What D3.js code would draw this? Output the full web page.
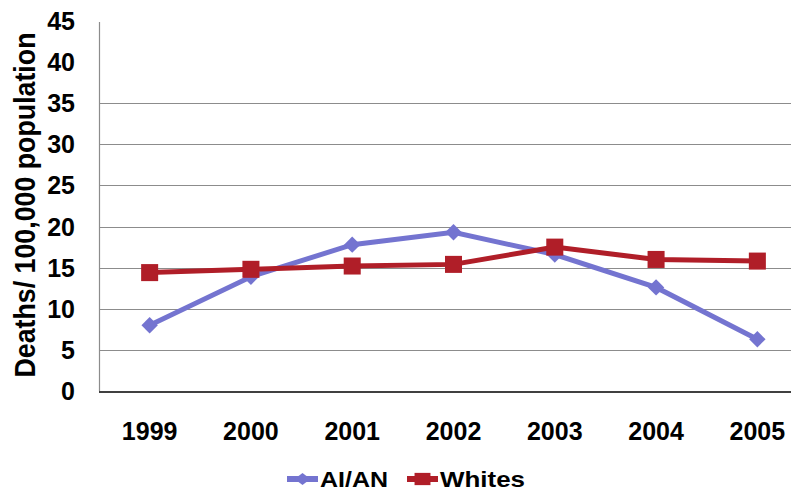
<!DOCTYPE html>
<html>
<head>
<meta charset="utf-8">
<script src="https://cdn.jsdelivr.net/npm/d3@7"></script>
<style>
  body { margin: 0; background: #fff; }
  svg { display: block; font-family: "Liberation Sans", Arial, sans-serif; }
</style>
</head>
<body>
<svg id="chart" width="791" height="492"></svg>
<script>
var years = ["1999", "2000", "2001", "2002", "2003", "2004", "2005"];
var aian = [8.0, 13.9, 17.8, 19.3, 16.6, 12.6, 6.3];
var whites = [14.4, 14.8, 15.2, 15.4, 17.5, 16.0, 15.8];
var yTicks = [0, 5, 10, 15, 20, 25, 30, 35, 40, 45];
var gridTicks = [5, 10, 15, 20, 25, 30, 35];

var svg = d3.select("#chart");
var plotLeft = 99, plotRight = 808, plotTop = 21, plotBottom = 391;

var x = d3.scalePoint()
    .domain(years)
    .range([plotLeft, plotRight])
    .padding(0.5);

var y = d3.scaleLinear()
    .domain([0, 45])
    .range([plotBottom, plotTop]);

// gridlines (40 and 45 are hidden behind the title box in the original)
svg.selectAll("line.grid")
    .data(gridTicks)
    .enter()
    .append("line")
    .attr("class", "grid")
    .attr("x1", plotLeft)
    .attr("x2", 791)
    .attr("y1", function (d) { return Math.round(y(d)) + 0.5; })
    .attr("y2", function (d) { return Math.round(y(d)) + 0.5; })
    .attr("stroke", "#8c8c8c")
    .attr("stroke-width", 1.2);

// y axis line
svg.append("line")
    .attr("x1", plotLeft + 0.5).attr("x2", plotLeft + 0.5)
    .attr("y1", plotTop + 1).attr("y2", plotBottom)
    .attr("stroke", "#8c8c8c")
    .attr("stroke-width", 1.2);

// x axis line
svg.append("line")
    .attr("x1", plotLeft).attr("x2", 791)
    .attr("y1", plotBottom + 1).attr("y2", plotBottom + 1)
    .attr("stroke", "#000")
    .attr("stroke-width", 1.5);

// y tick labels
svg.selectAll("text.ytick")
    .data(yTicks)
    .enter()
    .append("text")
    .attr("class", "ytick")
    .attr("x", 75)
    .attr("y", function (d) { return y(d) + 9; })
    .attr("text-anchor", "end")
    .attr("font-size", "25px")
    .attr("font-weight", "bold")
    .text(function (d) { return d; });

// x tick labels
svg.selectAll("text.xtick")
    .data(years)
    .enter()
    .append("text")
    .attr("class", "xtick")
    .attr("x", function (d) { return x(d); })
    .attr("y", 440)
    .attr("text-anchor", "middle")
    .attr("font-size", "25px")
    .attr("font-weight", "bold")
    .text(function (d) { return d; });

// y axis title
svg.append("text")
    .attr("transform", "translate(35,205) rotate(-90)")
    .attr("text-anchor", "middle")
    .attr("font-size", "29px")
    .attr("font-weight", "bold")
    .attr("textLength", 345)
    .attr("lengthAdjust", "spacingAndGlyphs")
    .text("Deaths/ 100,000 population");

var line = d3.line()
    .x(function (d, i) { return x(years[i]); })
    .y(function (d) { return y(d); });

var series = [
    { name: "AI/AN", values: aian, color: "#7474d0", rot: 45, size: 135 },
    { name: "Whites", values: whites, color: "#b01e28", rot: 0, size: 290 }
];

series.forEach(function (s) {
    svg.append("path")
        .datum(s.values)
        .attr("d", line)
        .attr("fill", "none")
        .attr("stroke", s.color)
        .attr("stroke-width", 5);

    svg.selectAll("path.m-" + s.name.replace("/", ""))
        .data(s.values)
        .enter()
        .append("path")
        .attr("class", "m-" + s.name.replace("/", ""))
        .attr("transform", function (d, i) {
            return "translate(" + x(years[i]) + "," + y(d) + ") rotate(" + s.rot + ")";
        })
        .attr("d", d3.symbol().type(d3.symbolSquare).size(s.size))
        .attr("fill", s.color);
});

// legend
var legendItems = [
    { name: "AI/AN", color: "#7474d0", rot: 45, size: 75, x0: 287, x1: 318, tw: 68 },
    { name: "Whites", color: "#b01e28", rot: 0, size: 150, x0: 407, x1: 438, tw: 85 }
];

legendItems.forEach(function (s) {
    svg.append("line")
        .attr("x1", s.x0).attr("x2", s.x1)
        .attr("y1", 479).attr("y2", 479)
        .attr("stroke", s.color)
        .attr("stroke-width", 6);
    svg.append("path")
        .attr("transform", "translate(" + (s.x0 + s.x1) / 2 + ",479) scale(1.3,1) rotate(" + s.rot + ")")
        .attr("d", d3.symbol().type(d3.symbolSquare).size(s.size))
        .attr("fill", s.color);
    svg.append("text")
        .attr("x", s.x1 + 2)
        .attr("y", 487)
        .attr("font-size", "22px")
        .attr("font-weight", "bold")
        .attr("textLength", s.tw)
        .attr("lengthAdjust", "spacingAndGlyphs")
        .text(s.name);
});
</script>
</body>
</html>
